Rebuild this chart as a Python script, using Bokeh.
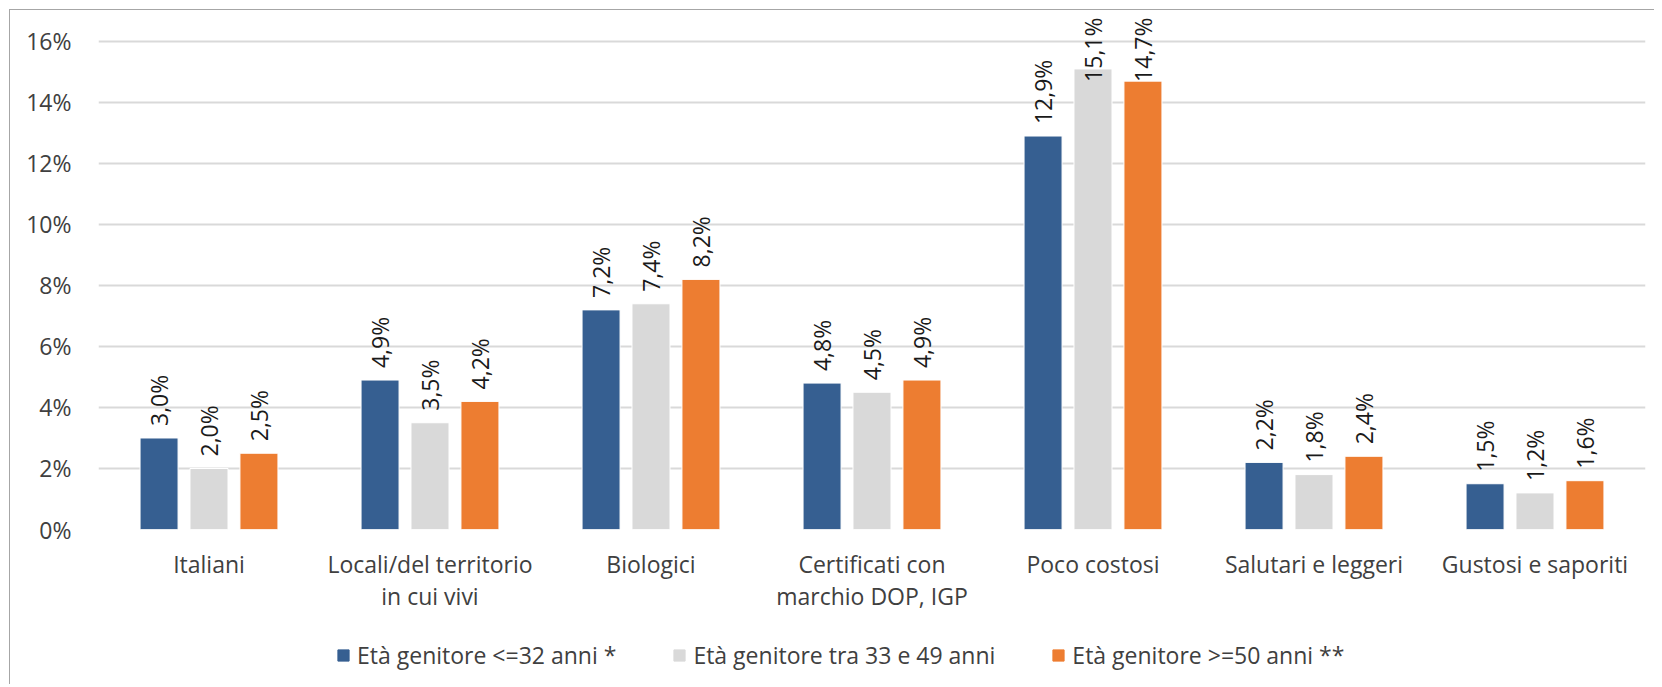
import numpy as np
from bokeh.plotting import figure
from bokeh.layouts import column
from bokeh.models import (ColumnDataSource, FactorRange, Range1d, FixedTicker,
                          PrintfTickFormatter, Legend, LegendItem)
from bokeh.transform import dodge
from bokeh.core.properties import value
from bokeh.embed import file_html
from bokeh.resources import INLINE

# ---- data ----
categories = ["Italiani", "Locali/del territorio\nin cui vivi", "Biologici",
              "Certificati con\nmarchio DOP, IGP", "Poco costosi",
              "Salutari e leggeri", "Gustosi e saporiti"]
series_names = ["Età genitore <=32 anni *", "Età genitore tra 33 e 49 anni",
                "Età genitore >=50 anni **"]
young = [3.0, 4.9, 7.2, 4.8, 12.9, 2.2, 1.5]
middle = [2.0, 3.5, 7.4, 4.5, 15.1, 1.8, 1.2]
older = [2.5, 4.2, 8.2, 4.9, 14.7, 2.4, 1.6]
y_ticks = [0, 2, 4, 6, 8, 10, 12, 14, 16]

colors = ["#365F91", "#D9D9D9", "#ED7D31"]
FONT = "Open Sans"

Y_TOP = 16.95
p = figure(x_range=FactorRange(*categories, range_padding=0),
           y_range=Range1d(0, Y_TOP),
           width=1645, height=620, output_backend="svg", toolbar_location=None,
           min_border_left=88, min_border_right=10, min_border_top=2,
           min_border_bottom=101)
p.styles = {"border-left": "1px solid #a6a6a6", "border-top": "1px solid #a6a6a6",
            "margin-left": "9px", "margin-top": "9px"}
p.outline_line_color = None
p.background_fill_color = "white"
p.border_fill_color = "white"

# axes
p.yaxis.ticker = FixedTicker(ticks=y_ticks)
p.yaxis.formatter = PrintfTickFormatter(format="%d%%")
p.yaxis.axis_line_color = None
p.yaxis.major_tick_line_color = None
p.yaxis.minor_tick_line_color = None
p.yaxis.major_label_standoff = 21
p.yaxis.major_label_text_font = FONT
p.yaxis.major_label_text_font_size = "23px"
p.yaxis.major_label_text_color = "#404040"

p.xaxis.axis_line_color = None
p.xaxis.major_tick_line_color = None
p.xaxis.major_label_standoff = 12
p.xaxis.major_label_text_font = FONT
p.xaxis.major_label_text_font_size = "23px"
p.xaxis.major_label_text_color = "#404040"
p.xaxis.major_label_text_line_height = 1.0

p.xgrid.grid_line_color = None
p.ygrid.ticker = FixedTicker(ticks=y_ticks)
p.ygrid.grid_line_color = "#D9D9D9"
p.ygrid.grid_line_width = 2

offsets = [-0.226, 0.0, 0.226]
BAR_W = 0.172
LABEL_LEN_PX = 68
GAP_PX = 12
PX_PER_UNIT = (529 - 41) / 16.0
CAP = 16.0 + (41 - 17) / PX_PER_UNIT   # highest point a label may reach

for vals, col, off in zip([young, middle, older], colors, offsets):
    v = np.array(vals)
    labels = [f"{x:.1f}".replace(".", ",") + "%" for x in vals]
    src = ColumnDataSource(dict(cat=categories, val=vals, lab=labels))
    p.vbar(x=dodge("cat", off, range=p.x_range), top="val", width=BAR_W,
           source=src, fill_color=col, line_color="white", line_width=1)

    clamp = v * PX_PER_UNIT + GAP_PX + LABEL_LEN_PX > (529 - 17)
    normal_idx = [i for i in range(len(vals)) if not clamp[i]]
    clamp_idx = [i for i in range(len(vals)) if clamp[i]]
    s_norm = ColumnDataSource(dict(cat=[categories[i] for i in normal_idx],
                                   val=[vals[i] for i in normal_idx],
                                   lab=[labels[i] for i in normal_idx]))
    s_clamp = ColumnDataSource(dict(cat=[categories[i] for i in clamp_idx],
                                    val=[CAP] * len(clamp_idx),
                                    lab=[labels[i] for i in clamp_idx]))
    p.text(x=dodge("cat", off, range=p.x_range), y="val", text="lab", source=s_norm,
           angle=np.pi / 2, text_align="left", text_baseline="middle",
           y_offset=-GAP_PX, text_font=value(FONT), text_font_size="23px",
           text_color="#1a1a1a")
    p.text(x=dodge("cat", off, range=p.x_range), y="val", text="lab", source=s_clamp,
           angle=np.pi / 2, text_align="right", text_baseline="middle",
           text_font=value(FONT), text_font_size="23px", text_color="#1a1a1a")

# ---- legend strip (separate figure below the chart) ----
lg = figure(width=1645, height=55, output_backend="svg", toolbar_location=None,
            x_range=Range1d(0, 1), y_range=Range1d(0, 1),
            x_axis_type=None, y_axis_type=None,
            min_border_left=0, min_border_right=0, min_border_top=0,
            min_border_bottom=0)
lg.styles = {"border-left": "1px solid #a6a6a6", "margin-left": "9px"}
lg.outline_line_color = None
lg.xgrid.grid_line_color = None
lg.ygrid.grid_line_color = None

items = []
for name, col in zip(series_names, colors):
    # placeholder renderer (NaN -> nothing drawn) that only supplies the legend swatch
    r = lg.vbar(x=[np.nan], top=[np.nan], width=0.1, fill_color=col, line_color=col)
    items.append(LegendItem(label=name, renderers=[r]))

legend = Legend(items=items, orientation="horizontal", location=(238, 13),
                border_line_color=None, background_fill_alpha=0,
                glyph_width=14, glyph_height=14, label_standoff=7, spacing=56,
                padding=0, margin=0,
                label_text_font=FONT, label_text_font_size="23px",
                label_text_color="#404040")
lg.add_layout(legend)

layout = column(p, lg, spacing=0)
open("out.html", "w").write(file_html(layout, INLINE))
